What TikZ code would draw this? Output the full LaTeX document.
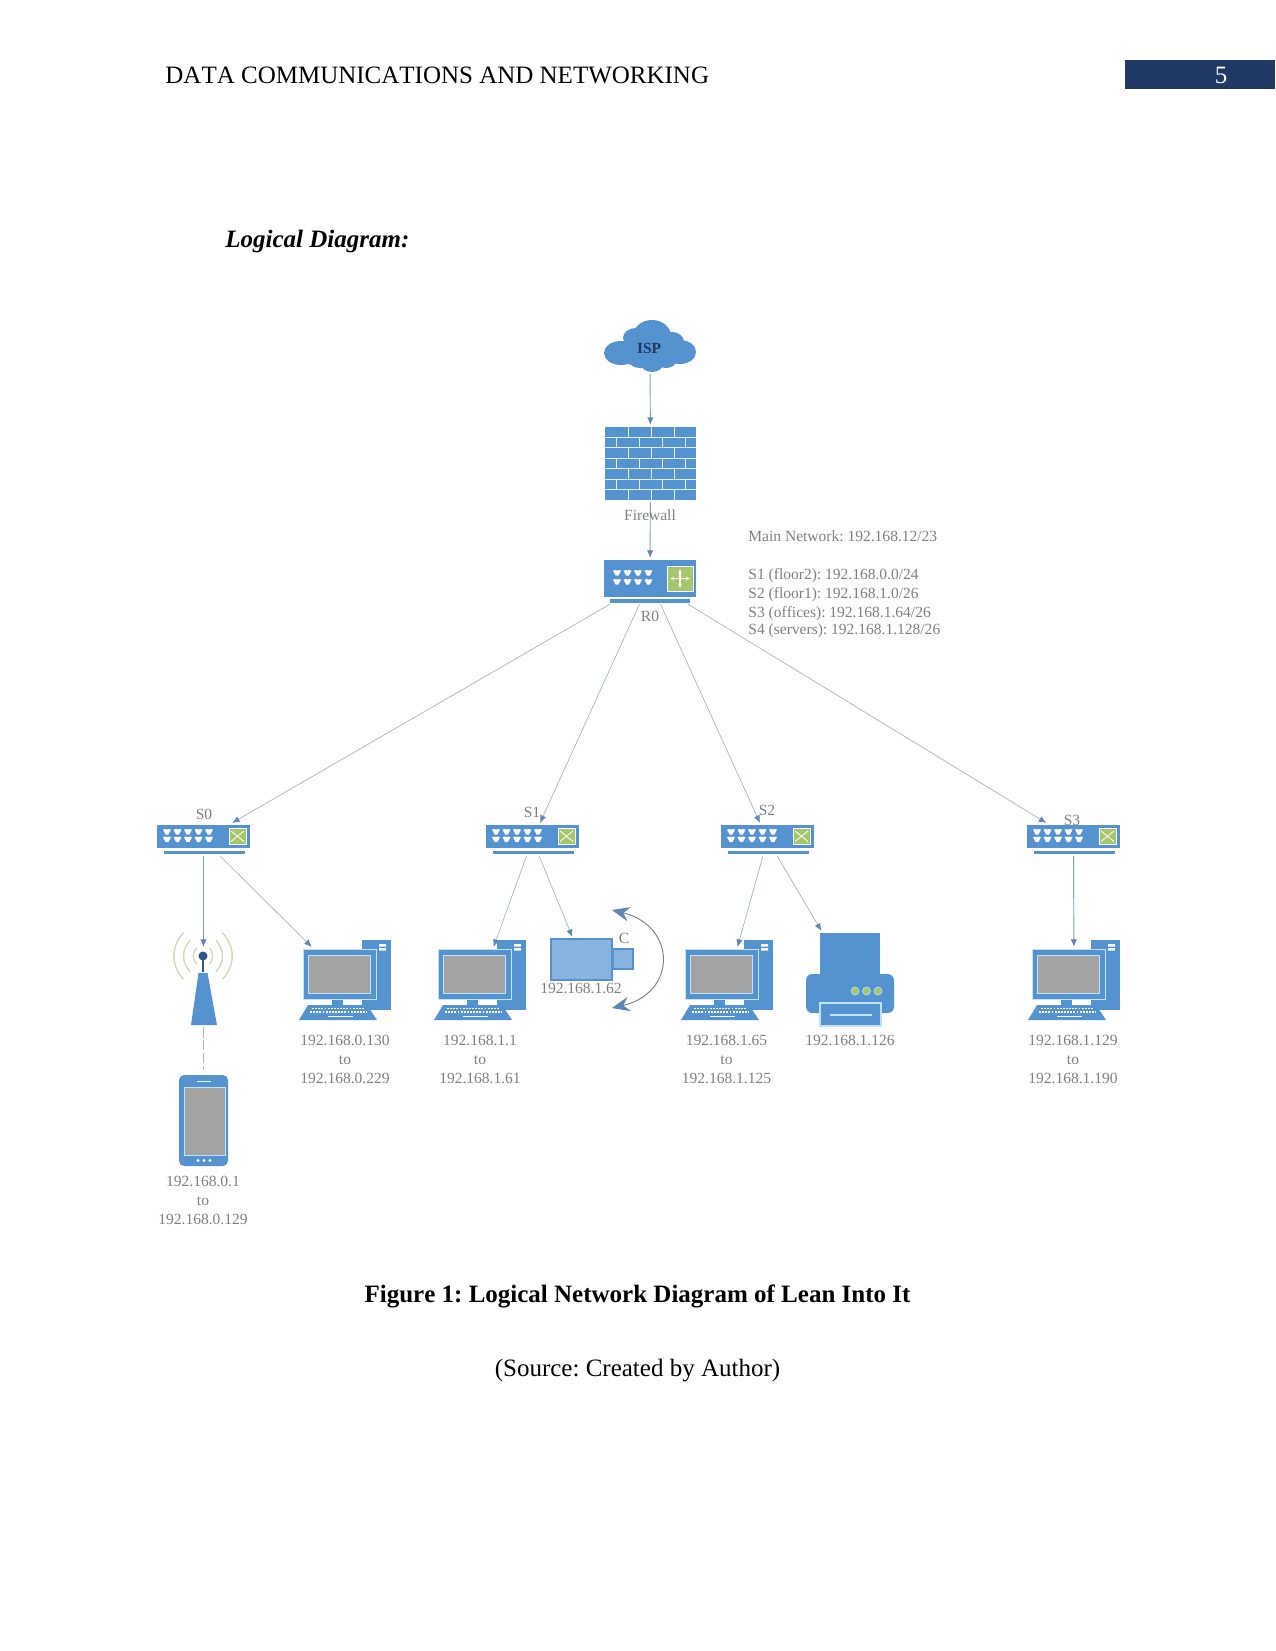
\documentclass[tikz,border=0pt]{standalone}
\usepackage{fontspec}
\setmainfont[Kerning=Off]{Liberation Serif}
\usetikzlibrary{arrows.meta,fit}
\definecolor{netblue}{HTML}{5592D0}
\definecolor{halo}{HTML}{BFE3F7}
\definecolor{scr}{HTML}{A3A3A3}
\definecolor{lbl}{HTML}{7F7F7F}
\definecolor{linkc}{HTML}{AAB6C2}
\definecolor{tipc}{HTML}{5B86B5}
\definecolor{navy}{HTML}{1F3864}
\definecolor{grn}{HTML}{A5C66B}
\definecolor{wave}{HTML}{CFDCB8}
\tikzset{
  x=0.48pt,y=-0.48pt,
  dev/.style={inner sep=0pt,outer sep=1pt},
  lab/.style={text=lbl,font=\fontsize{7.45}{9.1}\selectfont,align=center,inner sep=0pt},
  link/.style={draw=linkc,line width=0.35pt,-{Latex[length=3.6pt,width=3pt,color=tipc]}},
  vlink/.style={link,draw=tipc!80!white,line width=0.45pt},
  bigtext/.style={font=\fontsize{12}{14}\selectfont,inner sep=0pt,anchor=base},
  port/.pic={\fill[white] (-4,-2.4)--(-1.2,-3)--(0,-2.2)--(1.2,-3)--(4,-2.4)--(1.4,2.6)--(-1.4,2.6)--cycle;},
  keys/.style={draw=white,line width=0.9pt,dash pattern=on 0.9pt off 0.6pt},
  swicon/.pic={
    \fill[netblue] (0,0) rectangle (93,23);
    \fill[netblue] (7,25.5) rectangle (88,29);
    \foreach \c in {10,20.5,31,41.5,52}{\pic at (\c,7) {port}; \pic at (\c,14.5) {port};}
    \path[fill=grn,draw=white,line width=0.4pt] (72,3) rectangle (89,19.5);
    \draw[white,line width=0.4pt] (74,6) -- (87,16.5) (74,16.5) -- (87,6);
  },
  pcicon/.pic={
    \fill[netblue] (59,-9) rectangle (88,61);
    \fill[white] (76,-5) rectangle (83,-2.5) (76,-1) rectangle (83,1.5);
    \fill[netblue] (29,48) rectangle (40,57);
    \path[fill=netblue,draw=halo,line width=0.4pt] (0,0) rectangle (73,50);
    \path[fill=scr,draw=halo,line width=0.4pt] (5,6) rectangle (67,44);
    \fill[netblue] (5,56) -- (64,56) -- (74,71) -- (-4,71) -- cycle;
    \draw[keys] (9,59.5) -- (61,59.5) (7,63) -- (64,63);
    \draw[white,line width=0.8pt] (25,67.5) -- (50,67.5);
  },
}
\begin{document}
\frenchspacing
\begin{tikzpicture}
\useasboundingbox (0,0) rectangle (1275,1651);
% device frames
\node[dev,fit={(604,320)(696,372)}] (isp) {};
\node[dev,fit={(605,427)(696,500)}] (fw) {};
\node[dev,fit={(604,560)(696,602)}] (r0) {};
\node[dev,fit={(157,825)(250,854)}] (sw0) {};
\node[dev,fit={(486,825)(579,854)}] (sw1) {};
\node[dev,fit={(721,825)(814,854)}] (sw2) {};
\node[dev,fit={(1027,825)(1120,854)}] (sw3) {};
\node[dev,fit={(173,949)(234,1025)}] (ap) {};
\node[dev,fit={(179,1075)(228,1166)}] (phone) {};
\node[dev,fit={(299,949)(400,1020)}] (pc1) {};
\node[dev,fit={(434,949)(526,1020)}] (pc2) {};
\node[dev,fit={(681,949)(773,1020)}] (pc3) {};
\node[dev,fit={(1028,949)(1120,1020)}] (pc4) {};
\node[dev,fit={(551,939)(612,980)}] (cam) {};
\node[dev,fit={(806,933)(894,1026)}] (prn) {};
% page furniture
\fill[navy] (1125,60) rectangle (1275,89);
\node[bigtext,text=white] (pageno) at (1221,84) {5};
\node[bigtext,anchor=base west] (head) at (165,84) {DATA COMMUNICATIONS AND NETWORKING};
\node[bigtext,anchor=base west,font=\fontsize{12}{14}\selectfont\bfseries\itshape] (title) at (225,247) {Logical Diagram:};
\node[bigtext,font=\fontsize{12}{14}\selectfont\bfseries] (cap) at (637.5,1302) {Figure 1: Logical Network Diagram of Lean Into It};
\node[bigtext] (src) at (637.5,1376) {(Source: Created by Author)};
% cloud
\fill[netblue] (621,353) ellipse[x radius=17,y radius=12]
  (636,338) ellipse[x radius=13,y radius=10]
  (652,336) ellipse[x radius=19,y radius=16]
  (672,342) ellipse[x radius=12,y radius=10]
  (680,352) ellipse[x radius=16,y radius=12]
  (650,355) ellipse[x radius=30,y radius=13]
  (640,361) ellipse[x radius=11,y radius=7]
  (652,364) ellipse[x radius=11,y radius=8]
  (666,361) ellipse[x radius=10,y radius=7];
% firewall
\fill[netblue] (605,427) rectangle (696,500);
\foreach \r in {1,...,6}{\draw[white!50!halo,line width=0.4pt] (605,427+10.43*\r) -- (696,427+10.43*\r);}
\foreach \r in {0,2,4,6}{\foreach \c in {628,651,674}{\draw[white!50!halo,line width=0.4pt] (\c,427+10.43*\r) -- (\c,427+10.43*\r+10.43);}}
\foreach \r in {1,3,5}{\foreach \c in {616,639,662,685}{\draw[white!50!halo,line width=0.4pt] (\c,427+10.43*\r) -- (\c,427+10.43*\r+10.43);}}
% router
\fill[netblue] (604,560) rectangle (696,597);
\fill[netblue] (610,599) rectangle (690,602.5);
\foreach \c in {617,627.5,638,648.5}{\pic at (\c,573) {port}; \pic at (\c,582) {port};}
\path[fill=grn,draw=white,line width=0.4pt] (667,566) rectangle (693,591);
\draw[white,line width=0.5pt,{Latex[length=2pt,width=2pt]}-{Latex[length=2pt,width=2pt]}] (680,569) -- (680,588);
\draw[white,line width=0.5pt,{Latex[length=2pt,width=2pt]}-{Latex[length=2pt,width=2pt]}] (670,578.5) -- (690,578.5);
% switches
\pic at (157,825) {swicon};
\pic at (486,825) {swicon};
\pic at (721,825) {swicon};
\pic at (1027,825) {swicon};
% computers
\pic at (303,949) {pcicon};
\pic at (438,949) {pcicon};
\pic at (685,949) {pcicon};
\pic at (1032,949) {pcicon};
% access point
\foreach \r in {10,20,30}{
  \draw[wave,line width=0.7pt] (203+0.65*\r,956-0.78*\r) .. controls (203+1.08*\r,956-0.3*\r) and (203+1.08*\r,956+0.3*\r) .. (203+0.65*\r,956+0.78*\r);
  \draw[wave,line width=0.7pt] (203-0.65*\r,956-0.78*\r) .. controls (203-1.08*\r,956-0.3*\r) and (203-1.08*\r,956+0.3*\r) .. (203-0.65*\r,956+0.78*\r);
}
\fill[netblue] (198.5,973) -- (207.5,973) -- (217,1025) -- (191,1025) -- cycle;
\draw[navy!70!netblue,line width=0.7pt] (203,956) -- (203,972);
\fill[navy!70!netblue] (203,956) circle[radius=4.5];
% phone
\fill[netblue,rounded corners=2.5pt] (179,1075) rectangle (228,1166);
\path[fill=scr,draw=halo,line width=0.4pt] (184,1087) rectangle (225,1155);
\draw[white!60!halo,line width=0.5pt] (197,1081.5) -- (211,1081.5);
\foreach \c in {198,204,210}{\fill[white] (\c,1160.5) circle[radius=1.6];}
% camera
\path[fill=netblue!70!white,draw=netblue,line width=0.6pt] (551,939) rectangle (612,980);
\path[fill=netblue!70!white,draw=netblue,line width=0.6pt] (613,949) rectangle (633,969);
\draw[linkc!70!black,line width=0.45pt,{Stealth[length=8.5pt,width=7pt,inset=3pt,color=tipc]}-{Stealth[length=8.5pt,width=7pt,inset=3pt,color=tipc]}] (612,910) .. controls (677,926) and (677,993) .. (612,1008);
% printer
\fill[netblue] (820,933) rectangle (880,975);
\fill[netblue,rounded corners=3pt] (806,1013) -- (806,974) -- (894,974) -- (894,1013) -- cycle;
\path[fill=netblue,draw=halo,line width=0.5pt] (820,1003) rectangle (881,1026);
\draw[halo,line width=0.5pt] (830,1015) -- (872,1015);
\foreach \c in {855,866.5,878}{\path[fill=grn,draw=halo,line width=0.3pt] (\c,991) circle[radius=4];}
% connectors
\draw[vlink] (isp) -- (fw);
\draw[vlink] (fw) -- (r0);
\draw[link] (r0) -- (sw0);
\draw[link] (r0) -- (sw1);
\draw[link] (r0) -- (sw2);
\draw[link] (r0) -- (sw3);
\draw[vlink] (sw0) -- (ap);
\draw[link] (sw0) -- (pc1);
\draw[link] (sw1) -- (pc2);
\draw[link] (sw1) -- (cam);
\draw[link] (sw2) -- (pc3);
\draw[link] (sw2) -- (prn);
\draw[vlink] (sw3) -- (pc4);
\draw[draw=linkc,line width=0.35pt,dash pattern=on 5pt off 1.2pt,shorten >=2pt] (ap) -- (phone);
% labels
\node[lab,text=navy,font=\fontsize{7.4}{9}\selectfont\bfseries] (tisp) at (649,348) {ISP};
\node[lab] (tfw) at (650,515) {Firewall};
\node[lab] (tr0) at (650,616) {R0};
\node[lab,align=left,anchor=west] (tnet) at (748,584) {Main Network: 192.168.12/23\\[9.1pt]S1 (floor2): 192.168.0.0/24\\S2 (floor1): 192.168.1.0/26\\S3 (offices): 192.168.1.64/26\\[-1pt]S4 (servers): 192.168.1.128/26};
\node[lab] (ts0) at (204,814) {S0};
\node[lab] (ts1) at (532,812) {S1};
\node[lab] (ts2) at (767,810) {S2};
\node[lab] (ts3) at (1072,820) {S3};
\node[lab] (tphone) at (203,1200) {192.168.0.1\\to\\192.168.0.129};
\node[lab] (tpc1) at (345,1059) {192.168.0.130\\to\\192.168.0.229};
\node[lab] (tpc2) at (480,1059) {192.168.1.1\\to\\192.168.1.61};
\node[lab] (tcam) at (581,988) {192.168.1.62};
\node[lab] (tc) at (624,938) {C};
\node[lab] (tpc3) at (726.5,1059) {192.168.1.65\\to\\192.168.1.125};
\node[lab] (tprn) at (850,1040) {192.168.1.126};
\node[lab] (tpc4) at (1073,1059) {192.168.1.129\\to\\192.168.1.190};
\end{tikzpicture}
\end{document}
